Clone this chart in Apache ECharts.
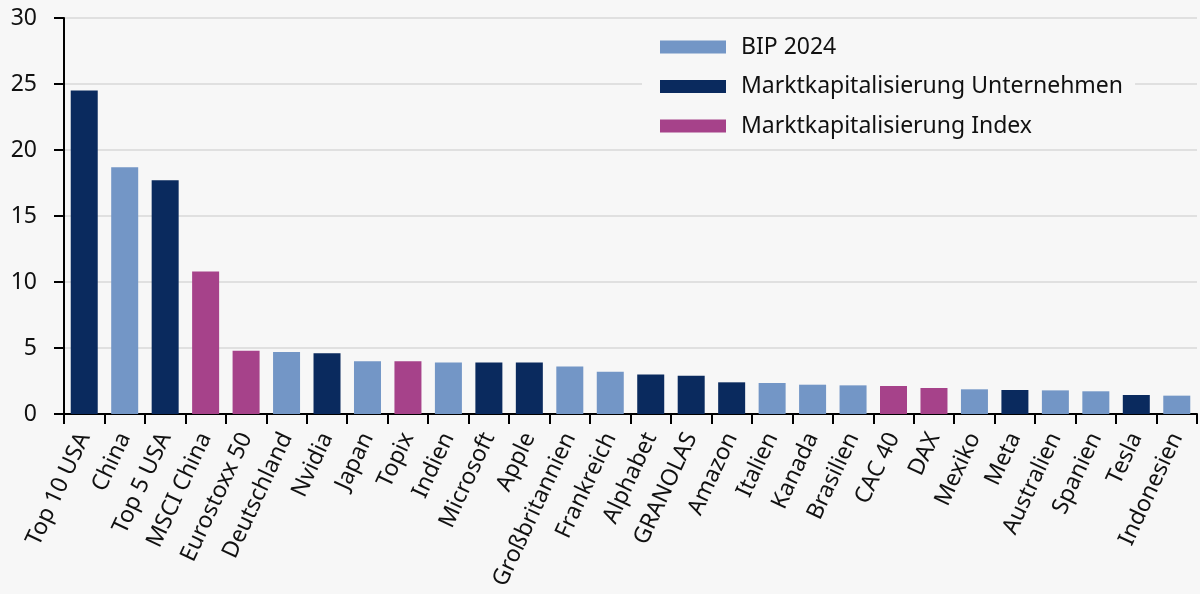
<!DOCTYPE html>
<html>
<head>
<meta charset="utf-8">
<script src="https://cdn.jsdelivr.net/npm/echarts@6/dist/echarts.min.js"></script>
<style>
  html, body { margin: 0; padding: 0; background: #f7f7f7; }
  #chart { width: 1200px; height: 594px; }
</style>
</head>
<body>
<div id="chart"></div>
<script>
// Kategorien und Werte
var categories = ['Top 10 USA', 'China', 'Top 5 USA', 'MSCI China', 'Eurostoxx 50', 'Deutschland', 'Nvidia',
    'Japan', 'Topix', 'Indien', 'Microsoft', 'Apple', 'Großbritannien', 'Frankreich', 'Alphabet', 'GRANOLAS',
    'Amazon', 'Italien', 'Kanada', 'Brasilien', 'CAC 40', 'DAX', 'Mexiko', 'Meta', 'Australien', 'Spanien',
    'Tesla', 'Indonesien'];
var values = [24.5, 18.7, 17.7, 10.8, 4.8, 4.7, 4.6, 4.0, 4.0, 3.9, 3.9, 3.9, 3.6, 3.2, 3.0, 2.9,
    2.4, 2.35, 2.22, 2.17, 2.12, 1.97, 1.87, 1.82, 1.79, 1.72, 1.44, 1.39];
// 0 = BIP 2024, 1 = Unternehmen, 2 = Index
var types = [1, 0, 1, 2, 2, 0, 1, 0, 2, 0, 1, 1, 0, 0, 1, 1, 1, 0, 0, 0, 2, 2, 0, 1, 0, 0, 1, 0];
var seriesNames = ['BIP 2024', 'Marktkapitalisierung Unternehmen', 'Marktkapitalisierung Index'];
var seriesColors = ['#7396c6', '#0a2a5e', '#a6428a'];
var yTicks = [0, 5, 10, 15, 20, 25, 30];

var font = 'Noto Sans';

function buildSeries() {
    var list = [];
    for (var s = 0; s < seriesNames.length; s++) {
        var d = [];
        for (var i = 0; i < values.length; i++) {
            d.push(types[i] == s ? values[i] : null);
        }
        list.push({
            name: seriesNames[s],
            type: 'bar',
            stack: 'all',
            barWidth: 27,
            itemStyle: { color: seriesColors[s] },
            data: d
        });
    }
    return list;
}

var myChart = echarts.init(document.getElementById('chart'));
var option = {
    backgroundColor: '#f7f7f7',
    animation: false,
    textStyle: { fontFamily: font },
    grid: { left: 64, right: 3, top: 18, bottom: 180, containLabel: false },
    legend: {
        orient: 'vertical',
        left: 642,
        top: 20,
        padding: [14, 12, 9, 18],
        backgroundColor: '#f7f7f7',
        icon: 'rect',
        itemWidth: 66,
        itemHeight: 13,
        itemGap: 13.5,
        textStyle: { fontSize: 23, color: '#111', lineHeight: 26, fontFamily: font, padding: [0, 0, 0, 10] },
        data: seriesNames
    },
    xAxis: {
        type: 'category',
        data: categories,
        axisLine: { lineStyle: { color: '#000', width: 2 } },
        axisTick: { show: true, length: 10, alignWithLabel: false, lineStyle: { color: '#000', width: 2 } },
        axisLabel: { interval: 0, rotate: 65, margin: 20, fontSize: 23, color: '#111', fontFamily: font }
    },
    yAxis: {
        type: 'value',
        min: yTicks[0],
        max: yTicks[yTicks.length - 1],
        interval: 5,
        axisLine: { show: true, lineStyle: { color: '#000', width: 2 } },
        axisTick: { show: true, length: 10, lineStyle: { color: '#000', width: 2 } },
        axisLabel: { fontSize: 23, color: '#111', margin: 27, fontFamily: font },
        splitLine: { lineStyle: { color: '#d9d9d9', width: 1.5 } }
    },
    series: buildSeries()
};
myChart.setOption(option);
</script>
</body>
</html>
